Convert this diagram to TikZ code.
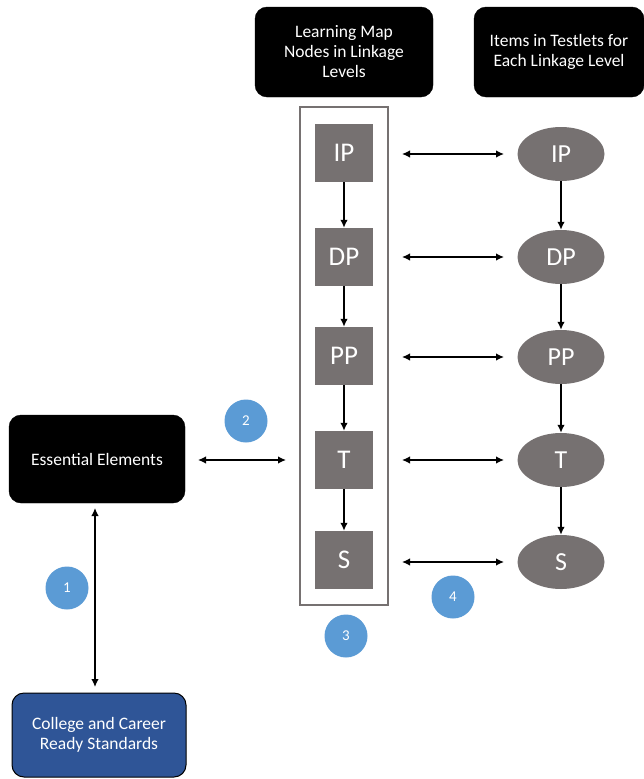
\documentclass[tikz,border=0pt]{standalone}
\usepackage{fontspec}
\setmainfont{Carlito}
\usetikzlibrary{arrows.meta,shapes.geometric}
\definecolor{boxgray}{HTML}{767171}
\definecolor{numblue}{HTML}{5B9BD5}
\definecolor{ccblue}{HTML}{2F5597}
\tikzset{
  blackbox/.style={draw=black,fill=black,rounded corners=12pt,text=white,align=center,font=\fontsize{17.5}{20}\selectfont,inner sep=0pt},
  sq/.style={draw=none,fill=boxgray,minimum width=58pt,minimum height=58pt,text=white,font=\fontsize{27}{28}\selectfont,inner sep=0pt},
  ell/.style={ellipse,draw=none,fill=boxgray,minimum width=87pt,minimum height=54pt,text=white,font=\fontsize{26}{28}\selectfont,inner sep=0pt},
  num/.style={circle,fill=numblue,minimum size=43pt,text=white,font=\fontsize{15}{16}\selectfont,inner sep=0pt},
  arr/.style={-{Latex[length=8pt,width=7.5pt]},line width=1.4pt},
  darr/.style={{Latex[length=8pt,width=7.5pt]}-{Latex[length=8pt,width=7.5pt]},line width=1.4pt},
}
\begin{document}
\begin{tikzpicture}[x=1pt,y=-1pt]
\useasboundingbox (0,0) rectangle (644,779);
\fill[white] (0,0) rectangle (644,779);
% top headers
\node[blackbox,minimum width=178pt,minimum height=90pt] (lm) at (344,52) {Learning Map\\Nodes in Linkage\\Levels};
\node[blackbox,minimum width=170pt,minimum height=90pt] (it) at (559,52) {Items in Testlets for\\Each Linkage Level};
% frame
\draw[boxgray,line width=1.5pt] (300,107) rectangle (388,605);
% squares
\node[sq] (sip) at (344,153) {IP};
\node[sq] (sdp) at (344,257) {DP};
\node[sq] (spp) at (344,356) {PP};
\node[sq] (st) at (344,460) {T};
\node[sq] (ss) at (344,560) {S};
% ellipses
\node[ell] (eip) at (561,154) {IP};
\node[ell] (edp) at (561,257) {DP};
\node[ell] (epp) at (561,357) {PP};
\node[ell] (et) at (561,460) {T};
\node[ell] (es) at (561,562) {S};
% vertical arrows
\draw[arr] (sip) -- (sdp);
\draw[arr] (sdp) -- (spp);
\draw[arr] (spp) -- (st);
\draw[arr] (st) -- (ss);
\draw[arr] (eip) -- (edp);
\draw[arr] (edp) -- (epp);
\draw[arr] (epp) -- (et);
\draw[arr] (et) -- (es);
% horizontal arrows
\coordinate (l1) at (402,154); \coordinate (r1) at (504,154);
\coordinate (l2) at (402,257); \coordinate (r2) at (504,257);
\coordinate (l3) at (402,357); \coordinate (r3) at (504,357);
\coordinate (l4) at (402,460); \coordinate (r4) at (504,460);
\coordinate (l5) at (402,562); \coordinate (r5) at (504,562);
\draw[darr] (l1) -- (r1);
\draw[darr] (l2) -- (r2);
\draw[darr] (l3) -- (r3);
\draw[darr] (l4) -- (r4);
\draw[darr] (l5) -- (r5);
% essential elements
\node[blackbox,minimum width=176pt,minimum height=88pt,font=\fontsize{17.5}{20}\selectfont] (ee) at (97,459) {Essential Elements};
\node[draw=black,line width=1pt,fill=ccblue,rounded corners=12pt,text=white,align=center,minimum width=174pt,minimum height=84pt,font=\fontsize{17.5}{20}\selectfont,inner sep=0pt] (cc) at (99,735) {College and Career\\Ready Standards};
\coordinate (ee1) at (198,460); \coordinate (ee2) at (286,460);
\draw[darr] (ee1) -- (ee2);
\coordinate (v1) at (95,508); \coordinate (v2) at (95,687);
\draw[darr] (v1) -- (v2);
% numbers
\node[num] (n1) at (67,588) {1};
\node[num] (n2) at (246,421) {2};
\node[num] (n3) at (346,636) {3};
\node[num] (n4) at (453,597) {4};
\end{tikzpicture}
\end{document}
